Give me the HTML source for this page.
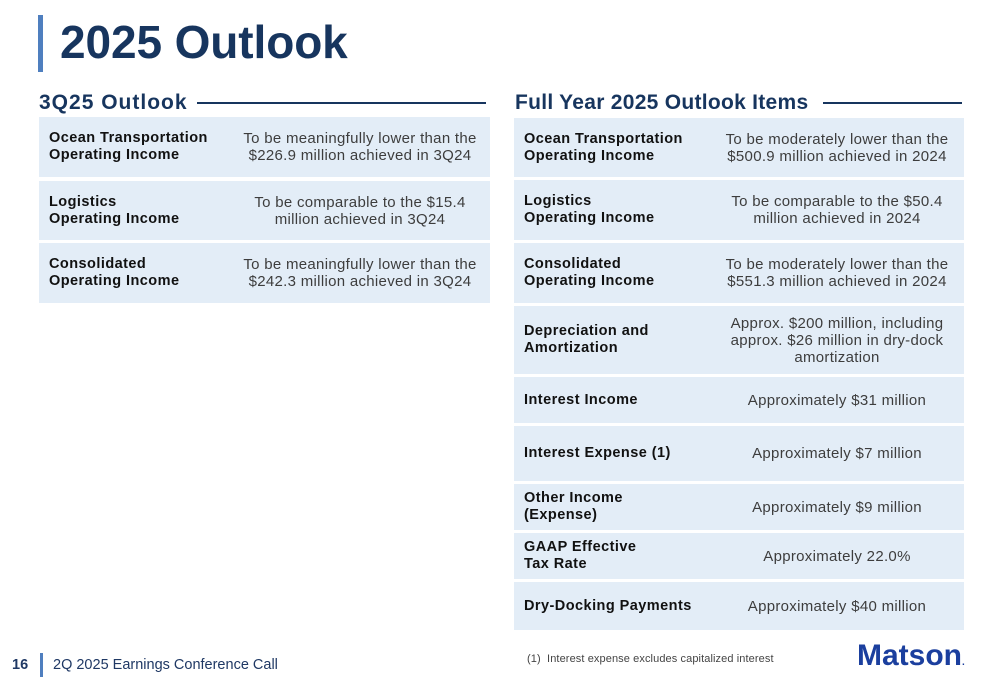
<!DOCTYPE html>
<html>
<head>
<meta charset="utf-8">
<style>
  html,body{margin:0;padding:0;background:#fff;}
  body{width:1000px;height:685px;position:relative;overflow:hidden;font-family:"Liberation Sans",Arial,sans-serif;}
  .abs{position:absolute;}
  .title{left:60px;top:14px;font-size:46px;font-weight:bold;color:#17355e;line-height:56px;white-space:nowrap;letter-spacing:-0.1px;}
  .tbar{left:38px;top:15px;width:5px;height:57px;background:#4f7fbf;}
  .sec{font-size:21px;font-weight:bold;color:#17355e;line-height:24px;white-space:nowrap;}
  .rule{height:2px;background:#17355e;}
  .row{position:absolute;background:#e3edf7;}
  .lab{position:absolute;top:0;bottom:0;display:flex;align-items:center;font-weight:bold;font-size:14.5px;line-height:17px;color:#111;letter-spacing:0.45px;white-space:nowrap;}
  .val{position:absolute;top:0;bottom:0;display:flex;align-items:center;justify-content:center;text-align:center;font-size:15px;line-height:17px;color:#3d3d3d;letter-spacing:0.3px;white-space:nowrap;}
  .L .lab{left:10px;}
  .R .lab{left:10px;}
  .R .val{left:196px;width:254px;}
</style>
</head>
<body>
  <div class="abs tbar"></div>
  <div class="abs title">2025 Outlook</div>

  <div class="abs sec" style="left:39px;top:91px;letter-spacing:1px;">3Q25 Outlook</div>
  <div class="abs rule" style="left:197px;top:102px;width:289px;"></div>

  <div class="abs sec" style="left:515px;top:91px;letter-spacing:0.28px;">Full Year 2025 Outlook Items</div>
  <div class="abs rule" style="left:823px;top:102px;width:139px;"></div>

  <!-- Left table -->
  <div class="L">
    <div class="row" style="left:39px;top:117px;width:451px;height:60px;">
      <div class="lab">Ocean Transportation<br>Operating Income</div>
      <div class="val" style="left:191px;width:260px;">To be meaningfully lower than the<br>$226.9 million achieved in 3Q24</div>
    </div>
    <div class="row" style="left:39px;top:181px;width:451px;height:59px;">
      <div class="lab">Logistics<br>Operating Income</div>
      <div class="val" style="left:191px;width:260px;">To be comparable to the $15.4<br>million achieved in 3Q24</div>
    </div>
    <div class="row" style="left:39px;top:243px;width:451px;height:60px;">
      <div class="lab">Consolidated<br>Operating Income</div>
      <div class="val" style="left:191px;width:260px;">To be meaningfully lower than the<br>$242.3 million achieved in 3Q24</div>
    </div>
  </div>

  <!-- Right table -->
  <div class="R">
    <div class="row" style="left:514px;top:118px;width:450px;height:59px;">
      <div class="lab">Ocean Transportation<br>Operating Income</div>
      <div class="val">To be moderately lower than the<br>$500.9 million achieved in 2024</div>
    </div>
    <div class="row" style="left:514px;top:180px;width:450px;height:60px;">
      <div class="lab">Logistics<br>Operating Income</div>
      <div class="val">To be comparable to the $50.4<br>million achieved in 2024</div>
    </div>
    <div class="row" style="left:514px;top:243px;width:450px;height:60px;">
      <div class="lab">Consolidated<br>Operating Income</div>
      <div class="val">To be moderately lower than the<br>$551.3 million achieved in 2024</div>
    </div>
    <div class="row" style="left:514px;top:306px;width:450px;height:68px;">
      <div class="lab">Depreciation and<br>Amortization</div>
      <div class="val">Approx. $200 million, including<br>approx. $26 million in dry-dock<br>amortization</div>
    </div>
    <div class="row" style="left:514px;top:377px;width:450px;height:46px;">
      <div class="lab">Interest Income</div>
      <div class="val">Approximately $31 million</div>
    </div>
    <div class="row" style="left:514px;top:426px;width:450px;height:55px;">
      <div class="lab">Interest Expense (1)</div>
      <div class="val">Approximately $7 million</div>
    </div>
    <div class="row" style="left:514px;top:484px;width:450px;height:46px;">
      <div class="lab">Other Income<br>(Expense)</div>
      <div class="val">Approximately $9 million</div>
    </div>
    <div class="row" style="left:514px;top:533px;width:450px;height:46px;">
      <div class="lab">GAAP Effective<br>Tax Rate</div>
      <div class="val">Approximately 22.0%</div>
    </div>
    <div class="row" style="left:514px;top:582px;width:450px;height:48px;">
      <div class="lab">Dry-Docking Payments</div>
      <div class="val">Approximately $40 million</div>
    </div>
  </div>

  <!-- Footnote -->
  <div class="abs" style="left:527px;top:652px;font-size:11px;line-height:14px;color:#444;letter-spacing:0.1px;white-space:nowrap;">(1)&nbsp; Interest expense excludes capitalized interest</div>

  <!-- Logo -->
  <div class="abs" style="left:857px;top:639px;font-size:30px;font-weight:bold;line-height:34px;color:#1b3f9e;letter-spacing:0px;white-space:nowrap;">Matson<span style="font-size:10px;">.</span></div>

  <!-- Footer -->
  <div class="abs" style="left:12px;top:656px;font-size:14.5px;font-weight:bold;line-height:18px;color:#1f3864;">16</div>
  <div class="abs" style="left:40px;top:653px;width:3px;height:24px;background:#4f7fbf;"></div>
  <div class="abs" style="left:53px;top:656px;font-size:14.5px;line-height:18px;color:#1f3864;white-space:nowrap;">2Q 2025 Earnings Conference Call</div>
</body>
</html>
